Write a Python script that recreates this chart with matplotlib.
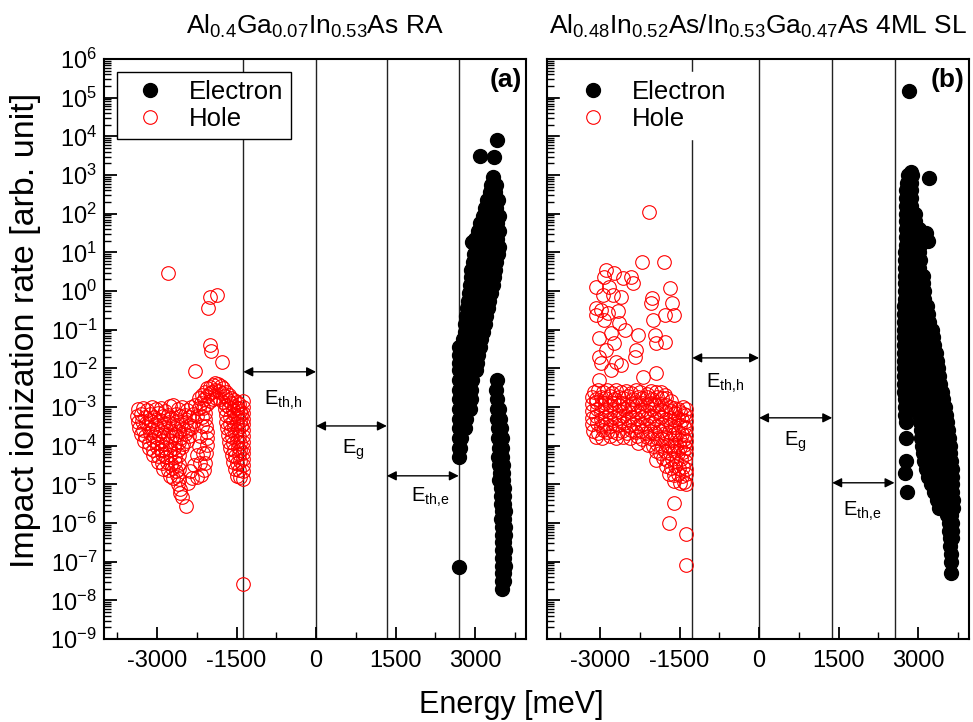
import numpy as np
import matplotlib
matplotlib.use("Agg")
import matplotlib.pyplot as plt
from matplotlib.ticker import LogLocator, MultipleLocator, NullFormatter

plt.rcParams['font.family'] = ['Liberation Sans', 'DejaVu Sans']
plt.rcParams['mathtext.fontset'] = 'custom'
plt.rcParams['mathtext.rm'] = 'Liberation Sans'
plt.rcParams['mathtext.it'] = 'Liberation Sans:italic'
plt.rcParams['mathtext.bf'] = 'Liberation Sans:bold'
plt.rcParams['axes.unicode_minus'] = False

# ---- data: (energy [meV], log10 of rate) ----
# panel (a) holes
hole_a = [
    # isolated points
    (-2790, 0.46), (-1870, -0.10), (-2000, -0.15), (-2030, -0.45), (-2000, -1.40),
    (-1990, -1.55), (-1780, -1.83), (-2280, -2.07), (-1372, -7.57),
    # left cloud
    (-3350, -3.05), (-3270, -3.02), (-3190, -3.08), (-3100, -3.0), (-3020, -3.06),
    (-2930, -3.03), (-2850, -3.1), (-2760, -2.98), (-2690, -2.96), (-2610, -3.04),
    (-2520, -2.99), (-2440, -3.07), (-2360, -3.0), (-2280, -2.95), (-2210, -3.02),
    (-3380, -3.22), (-3310, -3.17), (-3230, -3.25), (-3140, -3.19), (-3060, -3.27),
    (-2980, -3.16), (-2890, -3.23), (-2800, -3.2), (-2730, -3.28), (-2650, -3.18),
    (-2570, -3.24), (-2480, -3.2), (-2400, -3.26), (-2320, -3.17), (-2240, -3.22),
    (-3360, -3.4), (-3290, -3.35), (-3200, -3.42), (-3110, -3.37), (-3030, -3.44),
    (-2950, -3.34), (-2870, -3.41), (-2780, -3.38), (-2700, -3.45), (-2620, -3.36),
    (-2540, -3.43), (-2460, -3.39), (-2380, -3.46), (-2300, -3.37),
    (-3340, -3.55), (-3260, -3.6), (-3170, -3.52), (-3090, -3.58), (-3000, -3.54),
    (-2920, -3.62), (-2840, -3.53), (-2760, -3.59), (-2670, -3.55), (-2590, -3.63),
    (-2510, -3.56), (-2430, -3.6), (-2350, -3.54),
    (-3300, -3.7), (-3220, -3.76), (-3140, -3.68), (-3050, -3.74), (-2970, -3.71),
    (-2880, -3.78), (-2800, -3.69), (-2720, -3.75), (-2640, -3.72), (-2560, -3.79),
    (-2480, -3.7), (-2400, -3.76),
    (-3240, -3.88), (-3160, -3.93), (-3080, -3.86), (-3000, -3.92), (-2910, -3.89),
    (-2830, -3.95), (-2750, -3.87), (-2670, -3.93), (-2590, -3.9), (-2510, -3.96),
    (-2440, -3.88),
    (-3160, -4.05), (-3080, -4.1), (-3000, -4.04), (-2920, -4.11), (-2840, -4.06),
    (-2760, -4.12), (-2680, -4.05), (-2600, -4.1), (-2530, -4.04),
    (-3070, -4.24), (-2990, -4.28), (-2910, -4.22), (-2830, -4.3), (-2750, -4.25),
    (-2670, -4.29), (-2590, -4.23),
    (-2980, -4.42), (-2900, -4.46), (-2820, -4.41), (-2740, -4.47), (-2660, -4.43),
    (-2590, -4.48),
    (-2880, -4.6), (-2800, -4.64), (-2720, -4.58), (-2650, -4.65), (-2590, -4.6),
    (-2760, -4.78), (-2690, -4.83), (-2630, -4.77), (-2580, -4.85),
    (-2600, -5.0), (-2570, -5.12), (-2560, -5.23), (-2535, -5.32), (-2454, -5.56),
    # hump
    (-2200, -2.78), (-2150, -2.68), (-2100, -2.6), (-2050, -2.52), (-2000, -2.47),
    (-1950, -2.42), (-1900, -2.39), (-1850, -2.41), (-1800, -2.45), (-1750, -2.52),
    (-1700, -2.6), (-1650, -2.68), (-1600, -2.76), (-1550, -2.83), (-1500, -2.88),
    (-1450, -2.92),
    (-2170, -2.9), (-2110, -2.8), (-2060, -2.72), (-2010, -2.65), (-1960, -2.6),
    (-1900, -2.56), (-1840, -2.58), (-1780, -2.64), (-1720, -2.72), (-1660, -2.82),
    (-1600, -2.9), (-1540, -2.97), (-1480, -3.02),
    (-2130, -3.02), (-2060, -2.92), (-2000, -2.84), (-1940, -2.8), (-1880, -2.76),
    (-1820, -2.8), (-1760, -2.86), (-1700, -2.95),
    # left leg of the hump
    (-2100, -3.15), (-2090, -3.3), (-2075, -3.48), (-2060, -3.65), (-2050, -3.8),
    (-2063, -3.98), (-2080, -4.2), (-2095, -4.45), (-2120, -4.62), (-2170, -4.75),
    (-2240, -4.82), (-2346, -4.84), (-2410, -4.97), (-2160, -3.25), (-2150, -3.5),
    (-2180, -3.75), (-2200, -4.0), (-2250, -4.25), (-2300, -4.5), (-2370, -4.65),
    (-2140, -4.2), (-2190, -4.45),
    # right part
    (-1710, -3.05), (-1640, -3.0), (-1570, -3.08), (-1500, -3.02), (-1430, -3.1),
    (-1690, -3.2), (-1620, -3.26), (-1550, -3.19), (-1480, -3.25), (-1420, -3.18),
    (-1700, -3.38), (-1630, -3.43), (-1560, -3.36), (-1490, -3.42), (-1430, -3.35),
    (-1680, -3.55), (-1610, -3.6), (-1540, -3.52), (-1470, -3.58), (-1420, -3.5),
    (-1660, -3.72), (-1590, -3.77), (-1520, -3.7), (-1450, -3.75),
    (-1640, -3.9), (-1570, -3.94), (-1500, -3.87), (-1440, -3.92),
    (-1620, -4.06), (-1550, -4.1), (-1480, -4.04), (-1430, -4.12),
    (-1590, -4.24), (-1520, -4.28), (-1450, -4.22),
    (-1560, -4.42), (-1490, -4.46), (-1430, -4.4),
    (-1530, -4.6), (-1460, -4.64), (-1490, -4.78), (-1440, -4.82),
    # column on the threshold line
    (-1372, -2.85), (-1372, -3.0), (-1372, -3.15), (-1372, -3.3), (-1372, -3.45),
    (-1372, -3.6), (-1372, -3.75), (-1372, -3.9), (-1372, -4.05), (-1372, -4.2),
    (-1372, -4.35), (-1372, -4.5), (-1372, -4.65), (-1372, -4.85),
]

# panel (a) electrons, rows of (log10 level, energies)
elec_a_pts = [(3420, 3.91), (3095, 3.49), (3365, 3.46), (2938, 1.28), (2690, -7.15)]
elec_a_rows = [
    (2.95, [3330]),
    (2.75, [3300, 3400]),
    (2.55, [3280, 3380]),
    (2.35, [3230, 3330, 3430]),
    (2.15, [3190, 3290, 3400]),
    (1.95, [3150, 3250, 3350, 3450]),
    (1.75, [3100, 3200, 3300, 3420]),
    (1.55, [3050, 3150, 3250, 3350, 3460]),
    (1.35, [3000, 3100, 3200, 3300, 3420]),
    (1.15, [3020, 3130, 3240, 3350, 3460]),
    (0.95, [2980, 3080, 3190, 3300, 3430]),
    (0.75, [2960, 3060, 3170, 3280, 3400]),
    (0.55, [2930, 3040, 3150, 3260, 3380]),
    (0.35, [2920, 3020, 3120, 3230, 3350]),
    (0.15, [2900, 3000, 3100, 3210, 3330]),
    (-0.05, [2880, 2980, 3080, 3190, 3300]),
    (-0.25, [2860, 2960, 3060, 3170, 3270]),
    (-0.45, [2850, 2940, 3040, 3140, 3240]),
    (-0.65, [2830, 2920, 3020, 3110, 3200]),
    (-0.85, [2810, 2900, 3000, 3090, 3180]),
    (-1.05, [2800, 2890, 2980, 3070, 3150]),
    (-1.25, [2780, 2870, 2960, 3050, 3120]),
    (-1.45, [2700, 2770, 2860, 2950, 3030, 3100]),
    (-1.65, [2690, 2780, 2870, 2960, 3050]),
    (-1.85, [2690, 2780, 2870, 2960, 3040]),
    (-2.05, [2690, 2770, 2860, 2950, 3020]),
    (-2.3, [2690, 2770, 2860, 2950, 3410]),
    (-2.55, [2690, 2760, 2850, 2930, 3400]),
    (-2.8, [2690, 2760, 2840, 2920, 3410]),
    (-3.05, [2690, 2750, 2830, 2900, 3410, 3460]),
    (-3.3, [2690, 2750, 2820, 3420, 3470]),
    (-3.55, [2690, 2740, 2800, 3430, 3480]),
    (-3.8, [2690, 2730, 3440, 3500]),
    (-4.05, [2690, 2720, 3450, 3510]),
    (-4.3, [2690, 3440, 3500]),
    (-4.5, [3460, 3520]),
    (-4.7, [3470, 3530]),
    (-4.9, [3460, 3520]),
    (-5.1, [3480, 3540]),
    (-5.3, [3490, 3550]),
    (-5.5, [3480, 3540]),
    (-5.7, [3500, 3560]),
    (-5.9, [3490, 3550]),
    (-6.1, [3500, 3560]),
    (-6.3, [3510, 3560]),
    (-6.5, [3500, 3550]),
    (-6.7, [3510, 3560]),
    (-6.9, [3500, 3550]),
    (-7.1, [3510, 3560]),
    (-7.3, [3500, 3550]),
    (-7.5, [3510, 3540]),
    (-7.7, [3510]),
]

# panel (b) holes
hole_b = [
    # isolated upper points
    (-2077, 2.05), (-2203, 0.76), (-1799, 0.76),
    (-2885, 0.54), (-2727, 0.47), (-2917, 0.37), (-2570, 0.33), (-2411, 0.37),
    (-2380, 0.20), (-3074, 0.11), (-2822, 0.11), (-2949, -0.10), (-2759, -0.10),
    (-2600, -0.15), (-3074, -0.45), (-2979, -0.49), (-2854, -0.58), (-2665, -0.53),
    (-3074, -0.62), (-2917, -0.75), (-2633, -0.84), (-2538, -1.01), (-3011, -1.22),
    (-2790, -1.09), (-2727, -1.35), (-2885, -1.52), (-2286, -1.14), (-2316, -1.52),
    (-2349, -1.70), (-3011, -1.70), (-2979, -1.87), (-2695, -1.83), (-2600, -1.91),
    (-2790, -2.04), (-3011, -2.30), (-2191, -2.22), (-1938, -2.13), (-2013, -0.19),
    (-2032, -0.32), (-1686, 0.07), (-1635, -0.30), (-1780, -0.62), (-1610, -0.62),
    (-2002, -0.75), (-1970, -1.14), (-1938, -1.35), (-1780, -1.31),
    # dense band
    (-3120, -2.6), (-3030, -2.56), (-2950, -2.62), (-2860, -2.57), (-2780, -2.63),
    (-2690, -2.55), (-2600, -2.61), (-2510, -2.58), (-2420, -2.64), (-2330, -2.57),
    (-2240, -2.6), (-2120, -2.66), (-2030, -2.58), (-1940, -2.62), (-1850, -2.6),
    (-1770, -2.68),
    (-3150, -2.75), (-3070, -2.79), (-2990, -2.73), (-2900, -2.78), (-2810, -2.72),
    (-2730, -2.8), (-2640, -2.74), (-2560, -2.77), (-2470, -2.71), (-2380, -2.79),
    (-2290, -2.74), (-2200, -2.78), (-2110, -2.73), (-2020, -2.8), (-1930, -2.74),
    (-1840, -2.78), (-1750, -2.76), (-1670, -2.84),
    (-3160, -2.93), (-3080, -2.88), (-2990, -2.95), (-2910, -2.9), (-2820, -2.96),
    (-2740, -2.89), (-2650, -2.94), (-2570, -2.9), (-2480, -2.97), (-2390, -2.91),
    (-2300, -2.95), (-2210, -2.89), (-2120, -2.94), (-2030, -2.9), (-1940, -2.96),
    (-1850, -2.91), (-1760, -2.95), (-1680, -2.99), (-1600, -3.02), (-1520, -3.05),
    (-1440, -3.0), (-1370, -3.04),
    (-3150, -3.1), (-3060, -3.06), (-2980, -3.12), (-2890, -3.07), (-2810, -3.13),
    (-2720, -3.08), (-2640, -3.11), (-2550, -3.06), (-2460, -3.12), (-2380, -3.08),
    (-2290, -3.13), (-2200, -3.07), (-2110, -3.11), (-2020, -3.06), (-1930, -3.12),
    (-1840, -3.09), (-1750, -3.14), (-1660, -3.1), (-1580, -3.16), (-1500, -3.12),
    (-1420, -3.18), (-1370, -3.2),
    (-3160, -3.28), (-3070, -3.24), (-2990, -3.3), (-2900, -3.25), (-2820, -3.31),
    (-2730, -3.26), (-2650, -3.29), (-2560, -3.24), (-2470, -3.3), (-2390, -3.25),
    (-2300, -3.31), (-2210, -3.26), (-2120, -3.29), (-2030, -3.24), (-1940, -3.3),
    (-1850, -3.27), (-1760, -3.32), (-1680, -3.28), (-1600, -3.33), (-1520, -3.29),
    (-1450, -3.34), (-1370, -3.36),
    (-3150, -3.45), (-3060, -3.42), (-2980, -3.48), (-2890, -3.43), (-2810, -3.49),
    (-2720, -3.44), (-2640, -3.47), (-2550, -3.42), (-2460, -3.48), (-2380, -3.43),
    (-2290, -3.49), (-2200, -3.44), (-2110, -3.47), (-2020, -3.42), (-1930, -3.48),
    (-1840, -3.45), (-1750, -3.5), (-1660, -3.46), (-1580, -3.51), (-1500, -3.47),
    (-1420, -3.52), (-1370, -3.54),
    (-3130, -3.62), (-3040, -3.66), (-2950, -3.6), (-2860, -3.65), (-2770, -3.61),
    (-2680, -3.67), (-2590, -3.62), (-2500, -3.66), (-2410, -3.6), (-2320, -3.65),
    (-2230, -3.62), (-2140, -3.66), (-2050, -3.61), (-1960, -3.67), (-1870, -3.63),
    (-1780, -3.68), (-1690, -3.64), (-1610, -3.69), (-1530, -3.65), (-1450, -3.7),
    (-1380, -3.72),
    (-3080, -3.77), (-2960, -3.8), (-2820, -3.76), (-2690, -3.79), (-2560, -3.77),
    (-2430, -3.8), (-2300, -3.76), (-2200, -3.82), (-2110, -3.78), (-2020, -3.83),
    (-1930, -3.79), (-1840, -3.84), (-1750, -3.8), (-1660, -3.85), (-1580, -3.81),
    (-1500, -3.86), (-1420, -3.82), (-1370, -3.88),
    (-2290, -3.93), (-2100, -3.98), (-2010, -4.0), (-1920, -3.96), (-1830, -4.01),
    (-1740, -3.97), (-1650, -4.02), (-1570, -3.98), (-1490, -4.03), (-1410, -3.99),
    (-1370, -4.05),
    (-1950, -4.15), (-1860, -4.2), (-1770, -4.14), (-1680, -4.19), (-1600, -4.15),
    (-1520, -4.2), (-1440, -4.16), (-1370, -4.22),
    (-1940, -4.37), (-1820, -4.33), (-1730, -4.38), (-1640, -4.34), (-1560, -4.39),
    (-1480, -4.35), (-1400, -4.4),
    (-1760, -4.52), (-1670, -4.57), (-1590, -4.53), (-1510, -4.58), (-1430, -4.54),
    (-1370, -4.6),
    (-1690, -4.72), (-1610, -4.77), (-1530, -4.73), (-1450, -4.78), (-1380, -4.74),
    (-1600, -4.92), (-1500, -4.96), (-1420, -4.93), (-1370, -5.0),
    # lower tail
    (-1610, -5.47), (-1698, -6.0), (-1370, -6.28), (-1370, -7.09),
]

# panel (b) electrons, rows of (log10 level, energies)
elec_b_pts = [(2822, 5.17), (2860, 3.08), (3200, 2.92), (3150, 1.5), (3180, 1.3),
              (2770, -4.4), (2760, -4.7), (2790, -5.2)]
elec_b_rows = [
    (3.0, [2800, 2880]),
    (2.8, [2790, 2870]),
    (2.6, [2780, 2870]),
    (2.4, [2780, 2870]),
    (2.2, [2780, 2870]),
    (2.0, [2770, 2860, 2950]),
    (1.8, [2770, 2860, 2950]),
    (1.6, [2770, 2860, 2950, 3020]),
    (1.4, [2770, 2860, 2950, 3060]),
    (1.2, [2770, 2860, 2950, 3040]),
    (1.0, [2760, 2850, 2940, 3020]),
    (0.8, [2760, 2850, 2940, 3030]),
    (0.6, [2760, 2850, 2940, 3020]),
    (0.4, [2760, 2850, 2940, 3030, 3100]),
    (0.2, [2750, 2840, 2930, 3020, 3100]),
    (0.0, [2750, 2840, 2930, 3020, 3110]),
    (-0.2, [2750, 2840, 2930, 3020, 3110]),
    (-0.4, [2740, 2830, 2920, 3010, 3100, 3160]),
    (-0.6, [2740, 2830, 2920, 3010, 3100, 3180]),
    (-0.8, [2740, 2830, 2920, 3010, 3100, 3200]),
    (-1.0, [2740, 2830, 2920, 3010, 3100, 3190, 3260]),
    (-1.2, [2740, 2830, 2920, 3010, 3100, 3190, 3280]),
    (-1.4, [2740, 2830, 2920, 3010, 3100, 3200, 3300]),
    (-1.6, [2740, 2830, 2920, 3020, 3120, 3220, 3330]),
    (-1.8, [2740, 2830, 2930, 3030, 3130, 3240, 3350]),
    (-2.0, [2740, 2830, 2930, 3040, 3150, 3260, 3380]),
    (-2.2, [2740, 2840, 2940, 3050, 3160, 3280, 3400]),
    (-2.4, [2740, 2840, 2950, 3060, 3180, 3300, 3420]),
    (-2.6, [2740, 2850, 2960, 3080, 3200, 3320, 3450]),
    (-2.8, [2750, 2860, 2980, 3100, 3220, 3340, 3470]),
    (-3.0, [2750, 2870, 3000, 3120, 3240, 3360, 3500]),
    (-3.2, [2760, 3010, 3130, 3250, 3380, 3520]),
    (-3.4, [2770, 3030, 3150, 3270, 3400, 3540]),
    (-3.6, [3050, 3160, 3280, 3420, 3560]),
    (-3.8, [2780, 3060, 3180, 3300, 3440, 3580]),
    (-4.0, [3080, 3200, 3330, 3460, 3600]),
    (-4.2, [3100, 3220, 3350, 3480, 3610]),
    (-4.4, [3120, 3240, 3370, 3500, 3620]),
    (-4.6, [3150, 3270, 3400, 3520, 3630]),
    (-4.8, [3180, 3300, 3420, 3540, 3640]),
    (-5.0, [3250, 3350, 3450, 3560, 3640]),
    (-5.2, [3300, 3420, 3560, 3640]),
    (-5.4, [3350, 3480, 3580, 3650]),
    (-5.6, [3400, 3530, 3600, 3650]),
    (-5.8, [3550, 3620]),
    (-6.0, [3580, 3630]),
    (-6.2, [3590, 3640]),
    (-6.4, [3600, 3640]),
    (-6.6, [3610]),
    (-6.8, [3620]),
    (-7.0, [3620]),
    (-7.3, [3620]),
]

# threshold lines, arrow heights (log10) and label positions
lines_a = [-1372, 0, 1335, 2692]
lines_b = [-1260, 0, 1380, 2555]
arrow_exp_a = [-2.09, -3.49, -4.78]
arrow_exp_b = [-1.73, -3.28, -4.96]
label_pos_a = [(-620, -2.82), (700, -4.11), (2150, -5.33)]
label_pos_b = [(-640, -2.38), (680, -3.90), (1950, -5.70)]
arrow_labels = [r'E$_{\mathrm{th,\!h}}$', r'E$_{\mathrm{g}}$', r'E$_{\mathrm{th,\!e}}$']

titles = [r'Al$_{0.4}$Ga$_{0.07}$In$_{0.53}$As RA',
          r'Al$_{0.48}$In$_{0.52}$As/In$_{0.53}$Ga$_{0.47}$As 4ML SL']
tags = ['(a)', '(b)']


def from_pairs(pairs):
    arr = np.array(pairs, float)
    return arr[:, 0], 10.0 ** arr[:, 1]


def from_rows(pts, rows):
    pairs = list(pts)
    for e, row in rows:
        pairs += [(x, e) for x in row]
    return from_pairs(pairs)


fig = plt.figure(figsize=(9.73, 7.22), dpi=100)
ax_a = fig.add_axes([104/973, 1-639/722, 422/973, 580/722])
ax_b = fig.add_axes([547/973, 1-639/722, 422/973, 580/722])

panels = [
    (ax_a, from_rows(elec_a_pts, elec_a_rows), from_pairs(hole_a),
     lines_a, arrow_exp_a, label_pos_a),
    (ax_b, from_rows(elec_b_pts, elec_b_rows), from_pairs(hole_b),
     lines_b, arrow_exp_b, label_pos_b),
]

for i, (ax, elec, hole, lines, arr_e, lab_pos) in enumerate(panels):
    for x in lines:
        ax.axvline(x, color='#222222', lw=1.0, zorder=1)
    ax.plot(hole[0], hole[1], 'o', ms=9.8, mfc='none', mec='#ff0000', mew=0.8,
            label='Hole', zorder=3)
    ax.plot(elec[0], elec[1], 'o', ms=10, color='black', label='Electron', zorder=4)
    for k in range(3):
        ax.annotate('', xy=(lines[k + 1], 10.0 ** arr_e[k]), xytext=(lines[k], 10.0 ** arr_e[k]),
                    arrowprops=dict(arrowstyle='<|-|>', color='black', lw=1.0,
                                    mutation_scale=14, shrinkA=0, shrinkB=0))
        ax.text(lab_pos[k][0], 10.0 ** lab_pos[k][1], arrow_labels[k], fontsize=14.5,
                ha='center', va='center')

    ax.set_yscale('log')
    ax.set_xlim(-4000, 3960)
    ax.set_ylim(1e-9, 1e6)
    ax.yaxis.set_major_locator(LogLocator(base=10, numticks=20))
    ax.yaxis.set_minor_locator(LogLocator(base=10, subs=np.arange(2, 10), numticks=20))
    ax.yaxis.set_minor_formatter(NullFormatter())
    ax.xaxis.set_major_locator(MultipleLocator(1500))
    ax.xaxis.set_minor_locator(MultipleLocator(750))
    ax.tick_params(axis='both', which='both', direction='in', top=False, right=False)
    ax.tick_params(axis='both', which='major', length=9, width=1.3, labelsize=17)
    ax.tick_params(axis='both', which='minor', length=5, width=1.0)
    ax.tick_params(axis='x', pad=8)
    ax.tick_params(axis='y', pad=5)
    for s in ax.spines.values():
        s.set_linewidth(1.5)
    ax.set_title(titles[i], fontsize=19, pad=18.5)
    ax.text(0.99, 0.985, tags[i], transform=ax.transAxes, ha='right', va='top',
            fontsize=19, fontweight='bold')

    handles, labels = ax.get_legend_handles_labels()
    leg = ax.legend(handles[::-1], labels[::-1], loc='upper left', fontsize=18.5,
                    frameon=True, fancybox=False, framealpha=1, borderaxespad=0.5,
                    handletextpad=0.5, labelspacing=0.15, borderpad=0.3)
    leg.get_frame().set_linewidth(1.0)
    leg.get_frame().set_edgecolor('black' if i == 0 else 'white')

ax_b.set_yticklabels([])

fig.text(26/973, 1-330/722, 'Impact ionization rate [arb. unit]', rotation=90,
         ha='center', va='center', fontsize=24.5)
fig.text(511/973, 1-705/722, 'Energy [meV]', ha='center', va='center', fontsize=22)

fig.savefig('out.png', dpi=100)
